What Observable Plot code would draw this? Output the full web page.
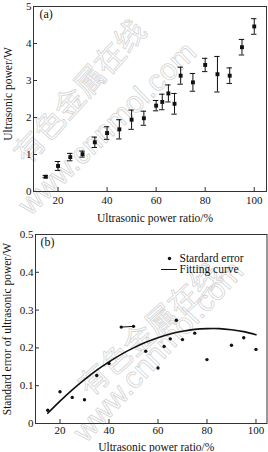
<!DOCTYPE html>
<html><head><meta charset="utf-8">
<script src="https://cdn.jsdelivr.net/npm/d3@7"></script>
<script src="https://cdn.jsdelivr.net/npm/@observablehq/plot@0.6"></script>
<style>
body{margin:0;background:#fff;width:268px;height:452px;overflow:hidden}
#chart svg{display:block}
</style></head><body><div id="chart"></div>
<script>
// Panel (a): ultrasonic power vs power ratio, with error bars
const ratio = [15, 20, 25, 30, 35, 40, 45, 50, 55, 60, 62.5, 65, 67.5, 70, 75, 80, 85, 90, 95, 100];
const power = [0.40, 0.69, 0.93, 1.01, 1.33, 1.58, 1.68, 1.94, 1.98, 2.32, 2.42, 2.65, 2.37, 3.13, 2.95, 3.42, 3.17, 3.13, 3.90, 4.46];
const powerErr = [0.03, 0.12, 0.10, 0.08, 0.14, 0.17, 0.26, 0.26, 0.19, 0.14, 0.21, 0.23, 0.28, 0.23, 0.24, 0.18, 0.48, 0.21, 0.21, 0.21];

// Panel (b): standard error and fitting curve
const seRatio = [15, 20, 25, 30, 35, 40, 45, 50, 55, 60, 62.5, 65, 67.5, 70, 75, 80, 90, 95, 100];
const seValue = [0.035, 0.084, 0.069, 0.063, 0.127, 0.159, 0.255, 0.257, 0.191, 0.147, 0.204, 0.224, 0.273, 0.222, 0.239, 0.169, 0.207, 0.227, 0.196];
const fitRatio = [15, 20, 25, 30, 35, 40, 45, 50, 55, 60, 65, 70, 75, 80, 85, 90, 95, 100];
const fitValue = [0.027, 0.059, 0.089, 0.116, 0.141, 0.163, 0.183, 0.200, 0.215, 0.227, 0.237, 0.244, 0.249, 0.251, 0.251, 0.248, 0.243, 0.235];

const xTicks = [20, 40, 60, 80, 100];
const yTicksA = [0, 1, 2, 3, 4, 5];
const yTicksB = [0, 0.1, 0.2, 0.3, 0.4, 0.5];
const yTickLabelsA = ["0", "1", "2", "3", "4", "5"];
const yTickLabelsB = ["0", "0.1", "0.2", "0.3", "0.4", "0.5"];

const xLabel = "Ultrasonic power ratio/%";
const yLabelA = "Ultrasonic power/W";
const yLabelB = "Standard error of ultrasonic power/W";
const panelA = "(a)";
const panelB = "(b)";
const legendDots = "Stardard error";
const legendLine = "Fitting curve";
const wmCN = "有色金属在线";
const wmURL = "www.cnnmol.com";

const font = "'Liberation Serif', 'Times New Roman', serif";
const ink = "#111";
const frameColor = "#333";
const wmColor = "#d4d4d4";

const ptsA = ratio.map((x, i) => ({x, y: power[i], e: powerErr[i]}));
const ptsB = seRatio.map((x, i) => ({x, y: seValue[i]}));
const fit = fitRatio.map((x, i) => ({x, y: fitValue[i]}));

const centered = {textAnchor: "middle", lineAnchor: "middle"};
const leftMid = {textAnchor: "start", lineAnchor: "middle"};

function watermark(cn, url) {
  return [
    Plot.text([wmCN], {frameAnchor: "top-left", dx: cn[0], dy: cn[1], rotate: cn[2], ...centered, fontSize: 30,
      fontFamily: "'Noto Sans CJK SC', sans-serif", fill: "none", stroke: wmColor, strokeWidth: 0.8}),
    Plot.text([wmURL], {frameAnchor: "top-left", dx: url[0], dy: url[1], rotate: url[2], ...centered, fontSize: 30,
      fontFamily: "'Liberation Sans', sans-serif", fill: "none", stroke: wmColor, strokeWidth: 0.8})
  ];
}

const plotA = Plot.plot({
  width: 268, height: 226,
  marginTop: 6, marginBottom: 35, marginLeft: 33, marginRight: 2,
  style: {fontFamily: font, fontSize: "11px", color: ink, background: "white"},
  x: {domain: [10, 105]},
  y: {domain: [0, 5]},
  marks: [
    ...watermark([47, 86, -48], [74, 122, -44]),
    Plot.frame({stroke: frameColor}),
    Plot.axisX({ticks: xTicks, tickSize: -4, tickPadding: 9, label: null, fontSize: 11, stroke: frameColor}),
    Plot.axisY({ticks: yTicksA, tickFormat: (d, i) => yTickLabelsA[i], tickSize: -4, tickPadding: 6, label: null, fontSize: 11, stroke: frameColor}),
    Plot.ruleX(ptsA, {x: "x", y1: d => d.y - d.e, y2: d => d.y + d.e, stroke: ink}),
    Plot.ruleY(ptsA, {y: d => d.y + d.e, x1: d => d.x - 1.1, x2: d => d.x + 1.1, stroke: ink}),
    Plot.ruleY(ptsA, {y: d => d.y - d.e, x1: d => d.x - 1.1, x2: d => d.x + 1.1, stroke: ink}),
    Plot.dot(ptsA, {x: "x", y: "y", symbol: "square", r: 2.2, fill: ink}),
    Plot.text([panelA], {frameAnchor: "top-left", dx: 6, dy: 8, ...leftMid, fontSize: 12}),
    Plot.text([yLabelA], {frameAnchor: "left", dx: -25, dy: -5, rotate: -90, ...centered, fontSize: 11.5}),
    Plot.text([xLabel], {frameAnchor: "bottom", dy: 27, dx: 5, ...centered, fontSize: 11.5})
  ]
});

const plotB = Plot.plot({
  width: 268, height: 226,
  marginTop: 8, marginBottom: 29, marginLeft: 35, marginRight: 1.5,
  style: {fontFamily: font, fontSize: "11px", color: ink, background: "white"},
  x: {domain: [10, 104.5]},
  y: {domain: [0, 0.5]},
  marks: [
    ...watermark([115, 96, -42], [123, 117, -47]),
    Plot.frame({stroke: frameColor}),
    Plot.axisX({ticks: xTicks, tickSize: -4, tickPadding: 7, label: null, fontSize: 11, stroke: frameColor}),
    Plot.axisY({ticks: yTicksB, tickFormat: (d, i) => yTickLabelsB[i], tickSize: -4, tickPadding: 6, label: null, fontSize: 11, stroke: frameColor}),
    Plot.line(fit, {x: "x", y: "y", curve: "natural", stroke: ink, strokeWidth: 1.6}),
    Plot.line(ptsB.filter(d => d.x === 45 || d.x === 50), {x: "x", y: "y", stroke: ink, strokeWidth: 1}),
    Plot.dot(ptsB, {x: "x", y: "y", r: 1.7, fill: ink}),
    Plot.text([panelB], {frameAnchor: "top-left", dx: 5, dy: 8, ...leftMid, fontSize: 12}),
    Plot.dot([legendDots], {frameAnchor: "top-left", dx: 134, dy: 24, r: 1.7, fill: ink}),
    Plot.text([legendDots], {frameAnchor: "top-left", dx: 144, dy: 24, ...leftMid, fontSize: 11.5}),
    Plot.vector([legendLine], {frameAnchor: "top-left", dx: 126, dy: 35, length: 15, rotate: 90, anchor: "start",
      shape: {draw(ctx, l) { ctx.moveTo(0, 0); ctx.lineTo(0, -l); }}, stroke: ink, strokeWidth: 1.2}),
    Plot.text([legendLine], {frameAnchor: "top-left", dx: 144, dy: 35, ...leftMid, fontSize: 11.5}),
    Plot.text([yLabelB], {frameAnchor: "left", dx: -28, rotate: -90, ...centered, fontSize: 11.5}),
    Plot.text([xLabel], {frameAnchor: "bottom", dy: 24, dx: 5, ...centered, fontSize: 11.5})
  ]
});

document.getElementById("chart").append(plotA, plotB);
</script>
</body></html>
